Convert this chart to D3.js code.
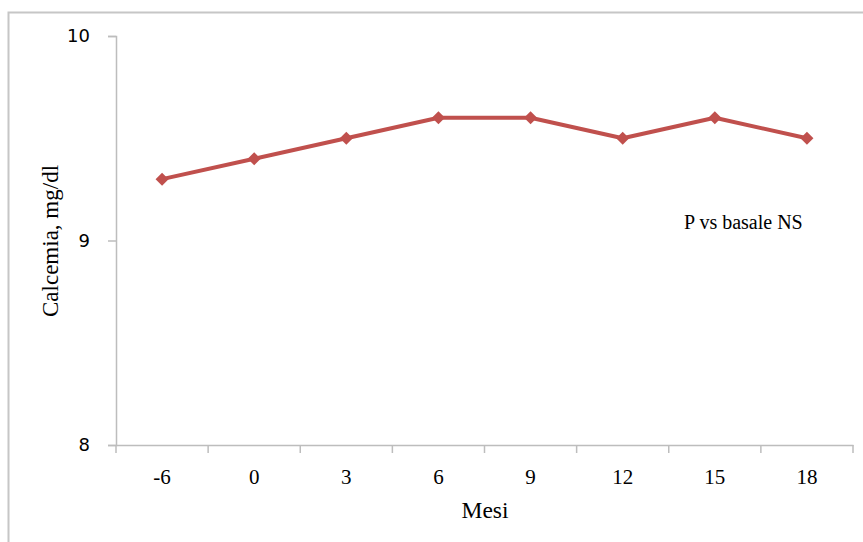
<!DOCTYPE html>
<html><head><meta charset="utf-8">
<script src="https://cdn.jsdelivr.net/npm/d3@7"></script>
<style>body{margin:0;background:#fff}</style>
</head><body>
<svg id="c" width="863" height="542"></svg>
<script>
const categories = ["-6","0","3","6","9","12","15","18"];
const values = [9.3,9.4,9.5,9.6,9.6,9.5,9.6,9.5];
const yTicks = [8,9,10];

const svg = d3.select("#c");
svg.append("path").attr("d","M8.5,542 L8.5,12.5 L863,12.5")
  .attr("fill","none").attr("stroke","#c6c6c6").attr("stroke-width",2);

const x = d3.scaleBand().domain(categories).range([116,853]);
const y = d3.scaleLinear().domain([8,10]).range([445,36]);

const gy = svg.append("g").attr("transform","translate(116,0)")
  .call(d3.axisLeft(y).tickValues(yTicks).tickSize(8).tickPadding(18).tickFormat(d3.format("d")));
gy.select(".domain").attr("stroke","#bdbdbd").attr("stroke-width",1.5);
gy.selectAll(".tick line").attr("stroke","#bdbdbd").attr("stroke-width",1.5);
gy.selectAll(".tick text").attr("font-family","DejaVu Sans, Verdana, sans-serif").attr("font-size",18).attr("fill","#000");

const gx = svg.append("g").attr("transform","translate(0,445)")
  .call(d3.axisBottom(x).tickSize(0).tickPadding(0));
gx.select(".domain").attr("stroke","#bdbdbd").attr("stroke-width",1.5);
gx.selectAll(".tick text").attr("font-family","Liberation Serif, Times New Roman, serif")
  .attr("font-size",21).attr("fill","#000").attr("dy",null).attr("y",39);
// boundary ticks
const bounds = categories.map(c=>x(c)).concat([x.range()[1]]);
gx.selectAll(".btick").data(bounds).enter().append("line")
  .attr("x1",d=>d).attr("x2",d=>d).attr("y1",0).attr("y2",8)
  .attr("stroke","#bdbdbd").attr("stroke-width",1.5);

const cx = d => x(d) + x.bandwidth()/2;
const line = d3.line().x((d,i)=>cx(categories[i])).y(d=>y(d));
svg.append("path").datum(values).attr("d",line)
  .attr("fill","none").attr("stroke","#C0504D").attr("stroke-width",4).attr("stroke-linejoin","round");
svg.selectAll(".pt").data(values).enter().append("path")
  .attr("transform",(d,i)=>`translate(${cx(categories[i])},${y(d)})`)
  .attr("d","M0,-6.5L6.5,0L0,6.5L-6.5,0Z").attr("fill","#C0504D");

svg.append("text").attr("x",485).attr("y",518).attr("text-anchor","middle")
  .attr("font-family","Liberation Serif, Times New Roman, serif").attr("font-size",23.5).text("Mesi");
svg.append("text").attr("transform","translate(58,241) rotate(-90)").attr("text-anchor","middle")
  .attr("font-family","Liberation Serif, Times New Roman, serif").attr("font-size",23).text("Calcemia, mg/dl");
svg.append("text").attr("x",684).attr("y",229)
  .attr("font-family","Liberation Serif, Times New Roman, serif").attr("font-size",20).text("P vs basale NS");
</script>
</body></html>
